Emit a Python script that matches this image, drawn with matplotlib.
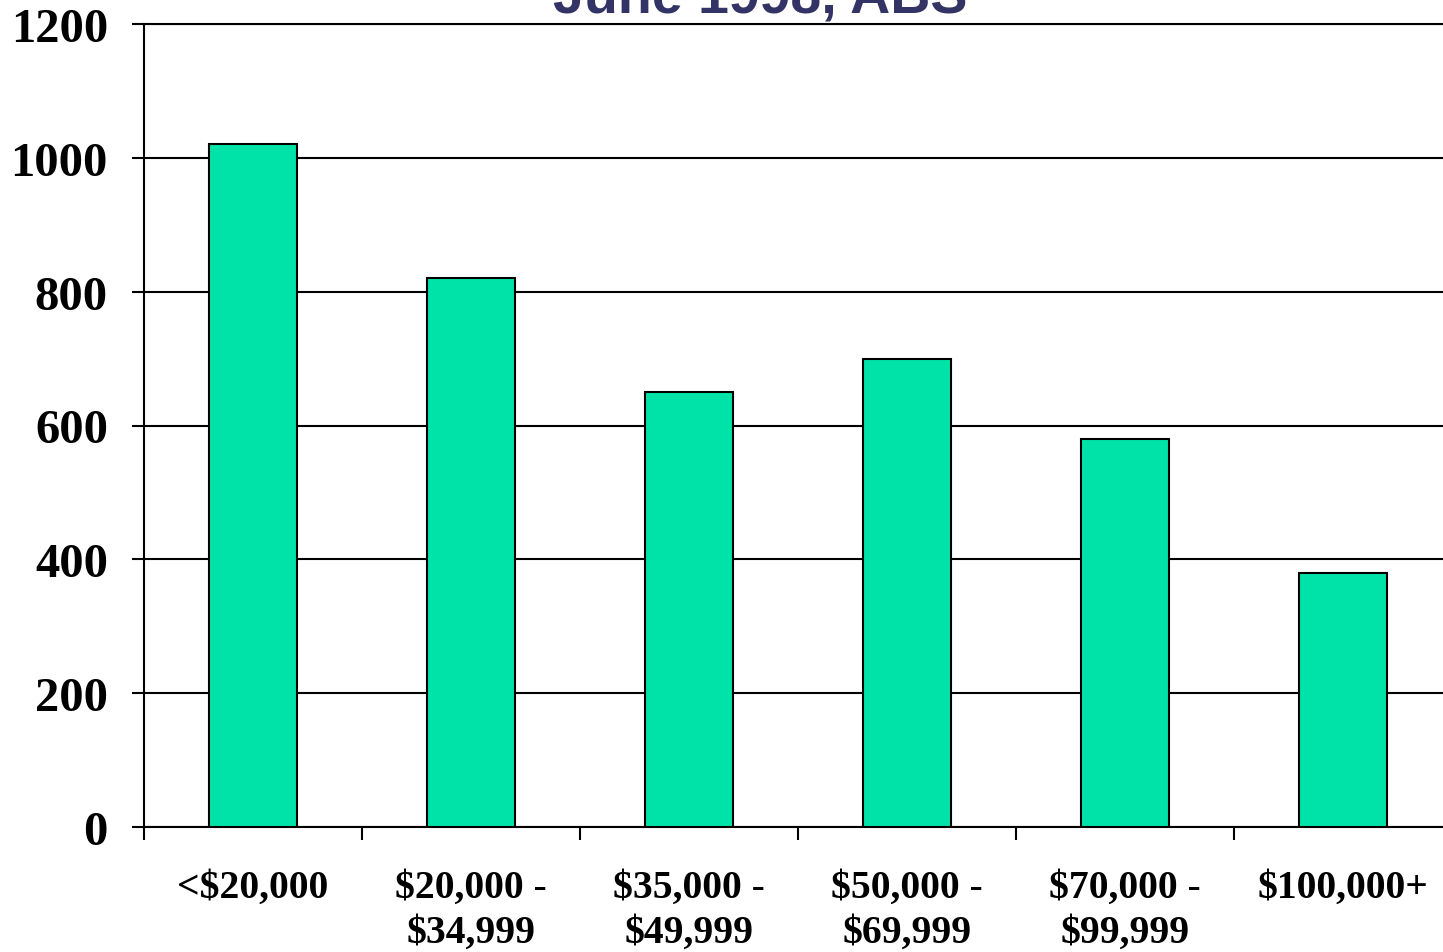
import numpy as np
import matplotlib.pyplot as plt

categories = ['<$20,000', '$20,000 -\n$34,999', '$35,000 -\n$49,999',
              '$50,000 -\n$69,999', '$70,000 -\n$99,999', '$100,000+']
values = [1020, 820, 650, 700, 580, 380]
yticks = [0, 200, 400, 600, 800, 1000, 1200]
title = 'June 1998, ABS'

fig = plt.figure(figsize=(14.43, 9.53), dpi=100)
ax = fig.add_axes([144/1443, 125/953, 1308/1443, 803/953])

x = np.arange(len(categories))
ax.bar(x, values, width=0.40, color='#00E3A8', edgecolor='black', linewidth=1.5, zorder=3)

ax.set_xlim(-0.5, len(categories) - 0.5)
ax.set_ylim(0, 1200)
ax.set_yticks(yticks)
ax.set_yticklabels([str(t) for t in yticks], fontfamily='Liberation Serif',
                   fontweight='bold', fontsize=35)
ax.yaxis.grid(True, color='black', linewidth=1.5, zorder=0)

# boundary ticks without labels, labels at bar centres
ax.set_xticks(np.arange(len(categories) + 1) - 0.5)
ax.set_xticklabels([])
ax.set_xticks(x, minor=True)
ax.set_xticklabels(categories, minor=True, fontfamily='Liberation Serif',
                   fontweight='bold', fontsize=28.5, linespacing=1.3)
ax.tick_params(axis='x', which='minor', length=0, pad=30)
ax.tick_params(axis='x', which='major', length=9, width=1.5, direction='out')
ax.tick_params(axis='y', length=9, width=1.5, direction='out', pad=17)

for s in ['left', 'bottom', 'top']:
    ax.spines[s].set_linewidth(1.5)
ax.spines['right'].set_visible(False)

fig.text(760/1443, 1 - 13/953, title, ha='center', va='baseline',
         fontfamily='Liberation Sans', fontweight='bold', fontsize=40, color='#333366')

fig.savefig('out.png', dpi=100)
